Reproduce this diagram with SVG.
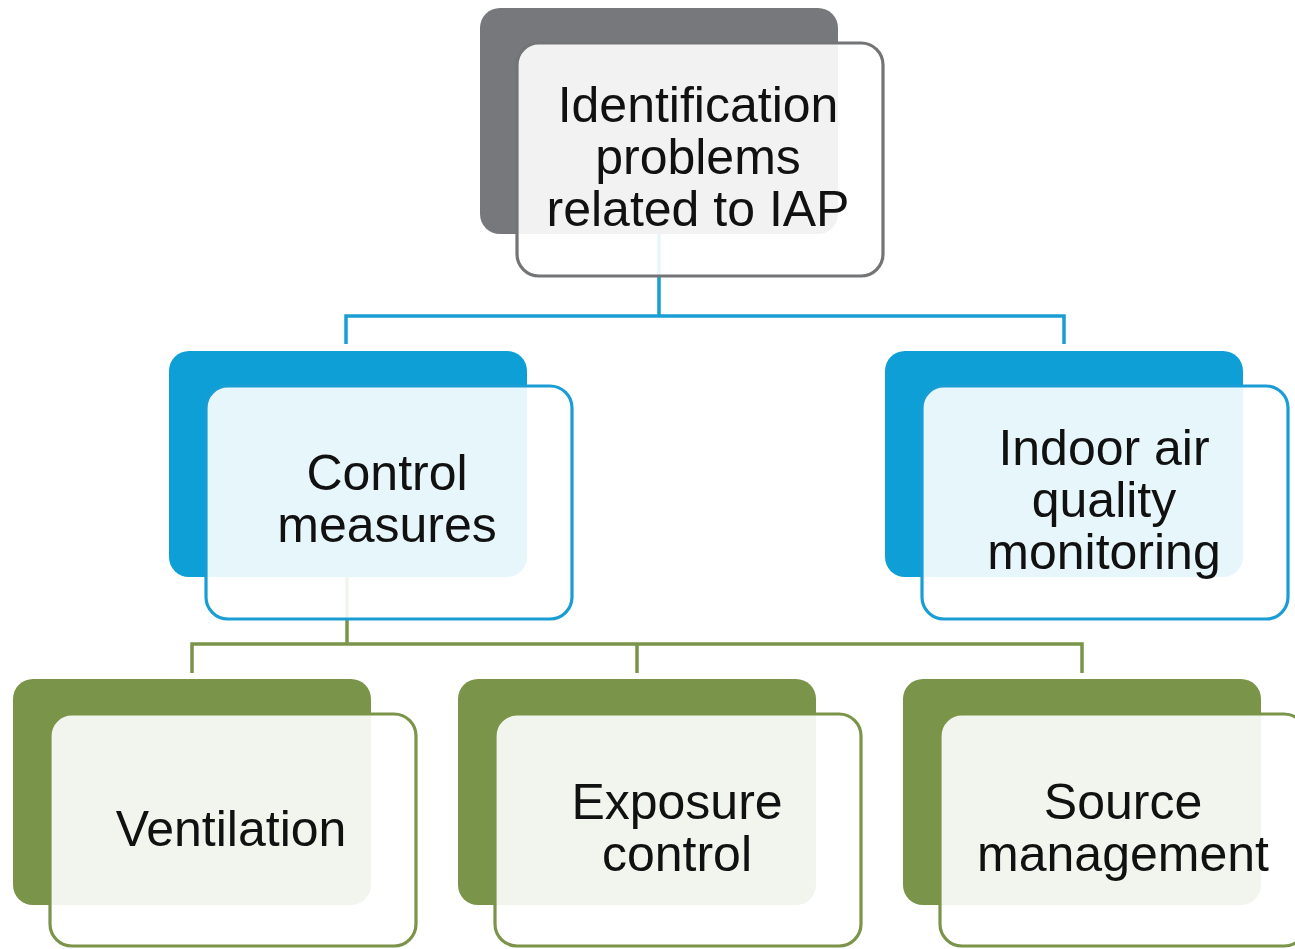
<svg xmlns="http://www.w3.org/2000/svg" width="1295" height="949" viewBox="0 0 1295 949">
<style>
  .bg{fill:#ffffff}
  .back{stroke:none}
  .front{fill:#ffffff;fill-opacity:0.9;stroke-width:3.2}
  .gray .back{fill:#77787b}
  .gray .front{stroke:#737476}
  .blue .back{fill:#0e9fd6}
  .blue .front{stroke:#1a9dd4}
  .green .back{fill:#7a9449}
  .green .front{stroke:#7a9449}
  .lbl{font-family:"Liberation Sans",Arial,sans-serif;font-size:50px;fill:#111111;text-anchor:middle}
  .cb{fill:none;stroke:#1a9dd4;stroke-width:3.5}
  .cg{fill:none;stroke:#7a9449;stroke-width:3.5}
</style>
<rect class="bg" x="0" y="0" width="1295" height="949"/>
<g id="connectors">
  <path class="cb" d="M659,233 V316 M346,344 V316 H1064 V344"/>
  <path class="cg" d="M347,577 V644 M192,673 V644 H1082 V673 M637,644 V673"/>
</g>
<g id="node-top" class="gray">
  <rect class="back" x="480" y="8" width="358" height="226" rx="20"/>
  <rect class="front" x="517" y="43" width="366" height="233" rx="22"/>
  <text class="lbl" x="698" y="122">Identification</text>
  <text class="lbl" x="698" y="174">problems</text>
  <text class="lbl" x="698" y="226">related to IAP</text>
</g>
<g id="node-control" class="blue">
  <rect class="back" x="169" y="351" width="358" height="226" rx="20"/>
  <rect class="front" x="206" y="386" width="366" height="233" rx="22"/>
  <text class="lbl" x="387" y="490">Control</text>
  <text class="lbl" x="387" y="542">measures</text>
</g>
<g id="node-monitoring" class="blue">
  <rect class="back" x="885" y="351" width="358" height="226" rx="20"/>
  <rect class="front" x="922" y="386" width="366" height="233" rx="22"/>
  <text class="lbl" x="1104" y="465">Indoor air</text>
  <text class="lbl" x="1104" y="517">quality</text>
  <text class="lbl" x="1104" y="569">monitoring</text>
</g>
<g id="node-ventilation" class="green">
  <rect class="back" x="13" y="679" width="358" height="226" rx="20"/>
  <rect class="front" x="50" y="714" width="366" height="232" rx="22"/>
  <text class="lbl" x="231" y="846">Ventilation</text>
</g>
<g id="node-exposure" class="green">
  <rect class="back" x="458" y="679" width="358" height="226" rx="20"/>
  <rect class="front" x="495" y="714" width="366" height="232" rx="22"/>
  <text class="lbl" x="677" y="819">Exposure</text>
  <text class="lbl" x="677" y="871">control</text>
</g>
<g id="node-source" class="green">
  <rect class="back" x="903" y="679" width="358" height="226" rx="20"/>
  <rect class="front" x="940" y="714" width="366" height="232" rx="22"/>
  <text class="lbl" x="1123" y="819">Source</text>
  <text class="lbl" x="1123" y="871">management</text>
</g>
</svg>
